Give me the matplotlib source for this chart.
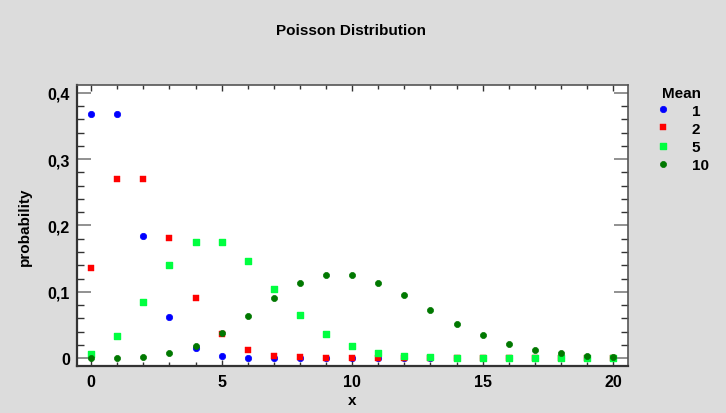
import matplotlib
matplotlib.use("Agg")
import matplotlib.pyplot as plt
from matplotlib.ticker import MultipleLocator, FuncFormatter
from matplotlib.markers import MarkerStyle

plt.rcParams['font.family'] = ['Liberation Sans', 'DejaVu Sans']

x = list(range(21))
mean1 = [0.3679, 0.3679, 0.1839, 0.0613, 0.0153, 0.0031, 0.0005, 0.0001, 0.0, 0.0, 0.0,
         0.0, 0.0, 0.0, 0.0, 0.0, 0.0, 0.0, 0.0, 0.0, 0.0]
mean2 = [0.1353, 0.2707, 0.2707, 0.1804, 0.0902, 0.0361, 0.0120, 0.0034, 0.0009, 0.0002, 0.00004,
         0.0, 0.0, 0.0, 0.0, 0.0, 0.0, 0.0, 0.0, 0.0, 0.0]
mean5 = [0.0067, 0.0337, 0.0842, 0.1404, 0.1755, 0.1755, 0.1462, 0.1044, 0.0653, 0.0363, 0.0181,
         0.0082, 0.0034, 0.0013, 0.0005, 0.0002, 0.00005, 0.0, 0.0, 0.0, 0.0]
mean10 = [0.00005, 0.0005, 0.0023, 0.0076, 0.0189, 0.0378, 0.0631, 0.0901, 0.1126, 0.1251, 0.1251,
          0.1137, 0.0948, 0.0729, 0.0521, 0.0347, 0.0217, 0.0128, 0.0071, 0.0037, 0.0019]
labels = ['1', '2', '5', '10']

bg = '#dcdcdc'
fig = plt.figure(figsize=(7.26, 4.14), dpi=100, facecolor=bg)
ax = fig.add_axes([77/726, 1-367/414, (628-77)/726, (367-86)/414])
ax.set_facecolor('white')

rsq = MarkerStyle('s', joinstyle='round')
h1, = ax.plot(x, mean1, 'o', color='#0000ff', markersize=4.6, markeredgewidth=0.5, linestyle='none', label=labels[0])
h2, = ax.plot(x, mean2, 's', color='#ff0000', markersize=4.4, markeredgewidth=0.3, linestyle='none', label=labels[1])
h3, = ax.plot(x, mean5, marker=rsq, color='#00ff40', markersize=4.0, markeredgewidth=1.0, linestyle='none', label=labels[2])
h4, = ax.plot(x, mean10, 'o', color='#007800', markersize=4.4, markeredgewidth=0.5, linestyle='none', label=labels[3])

ax.set_xlim(-0.54, 20.57)
ax.set_ylim(-0.012, 0.412)

ax.xaxis.set_major_locator(MultipleLocator(5))
ax.xaxis.set_minor_locator(MultipleLocator(1))
ax.yaxis.set_major_locator(MultipleLocator(0.1))
ax.yaxis.set_minor_locator(MultipleLocator(0.02))
ax.yaxis.set_major_formatter(FuncFormatter(lambda v, p: '0' if abs(v) < 1e-9 else f'{v:.1f}'.replace('.', ',')))

ax.tick_params(which='both', direction='in', top=True, right=True, colors='#333333',
               labelcolor='black', labelsize=11.5)
ax.tick_params(axis='y', which='major', length=10, width=1.3, color='#888888', pad=5)
ax.tick_params(axis='y', which='minor', length=5, width=1.0)
ax.tick_params(axis='x', which='major', length=4, width=1.0, pad=6)
ax.tick_params(axis='x', which='minor', length=3, width=1.0)
for lab in ax.get_xticklabels() + ax.get_yticklabels():
    lab.set_fontweight('bold')

for s in ax.spines.values():
    s.set_color('#555555')
    s.set_linewidth(1.2)
for s in ['left', 'bottom']:
    ax.spines[s].set_color('#333333')
    ax.spines[s].set_linewidth(1.6)

ax.set_xlabel('x', fontsize=11, fontweight='bold', labelpad=3)
ax.set_ylabel('probability', fontsize=11, fontweight='bold', labelpad=11)
fig.text(351/726, 1-31/414, 'Poisson Distribution', ha='center', va='center',
         fontsize=11, fontweight='bold')

leg = fig.legend(handles=[h1, h2, h3, h4], title='Mean', frameon=False,
                 loc='upper left', bbox_to_anchor=(655/726, 1-86.5/414),
                 fontsize=11, title_fontproperties={'weight': 'bold', 'size': 11},
                 handlelength=1.0, handletextpad=1.4, labelspacing=0.27,
                 borderpad=0, borderaxespad=0)
for t in leg.get_texts():
    t.set_fontweight('bold')

fig.savefig('out.png', dpi=100, facecolor=bg)
